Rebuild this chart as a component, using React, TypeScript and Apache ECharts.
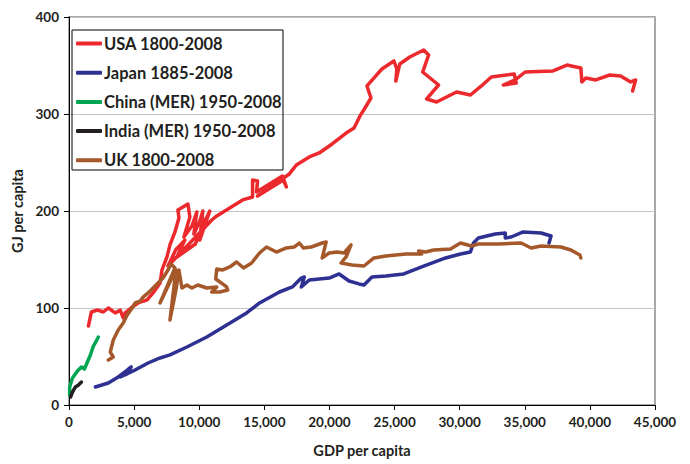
import React, { useEffect, useRef } from "react";
import * as echarts from "echarts";

// GDP per capita vs GJ per capita, traced paths [gdp, gj]
const usaPath: number[][] = [
  [1490, 81.4], [1719, 95.9], [2177, 97.9], [2636, 95.9], [3018, 100.0], [3553, 94.9],
  [3935, 97.9], [4164, 89.7], [4317, 94.9], [4851, 101.0], [5310, 105.2], [5997, 108.3],
  [6456, 115.5], [6991, 125.8], [7143, 139.2], [7525, 152.6], [7755, 165.0], [8137, 178.4],
  [8442, 192.8], [8366, 201.0], [9130, 207.2], [9283, 193.8], [8824, 173.2], [9435, 184.5],
  [9817, 199.0], [9588, 176.3], [10047, 189.7], [10276, 200.0], [10123, 180.4], [10811, 200.0],
  [10047, 170.1], [10500, 192.0], [9700, 166.0], [9053, 159.8], [8289, 152.6], [8900, 170.0],
  [8200, 160.0], [7602, 143.3], [10963, 190.7], [11345, 194.9],
  [13332, 211.4], [14096, 214.4], [14096, 232.0], [14478, 230.9], [14401, 219.6], [16388, 236.1],
  [16693, 224.8], [16464, 232.0], [14478, 215.5], [16923, 238.2], [17457, 247.4], [18451, 255.7],
  [19215, 259.8], [20208, 269.1], [21277, 280.4], [21889, 285.6], [22347, 298.0], [22729, 306.2],
  [23187, 316.5], [22882, 328.9], [23493, 338.2], [24028, 346.4], [24945, 354.7], [25174, 346.4],
  [25097, 334.0], [25403, 351.6], [26167, 358.8], [27237, 366.0], [27619, 360.9], [27160, 343.3],
  [28383, 329.9], [27466, 315.5], [28230, 312.4], [29758, 322.7], [30827, 319.6], [31668, 328.9],
  [32432, 338.2], [34189, 341.3], [34342, 332.0], [33349, 329.9], [34265, 335.1], [35029, 343.3],
  [37169, 344.4], [38238, 350.5], [39308, 347.4], [39384, 333.0], [39690, 337.1], [40454, 335.1],
  [41523, 340.2], [42364, 339.2], [43128, 333.0], [43510, 335.1], [43281, 323.7],
];

const japanPath: number[][] = [
  [2025, 18.6], [3018, 22.7], [3782, 28.9], [4393, 35.1], [4775, 39.2], [4469, 32.0],
  [3935, 28.9], [4928, 35.1], [6074, 43.3], [6991, 48.5], [7755, 51.6], [9053, 59.8],
  [10581, 70.1], [12109, 82.5], [13637, 94.9], [14631, 105.2], [16159, 116.5], [17152, 121.7],
  [17839, 130.9], [18069, 132.0], [17839, 121.7], [18451, 128.9], [19215, 129.9], [19979, 130.9],
  [20743, 135.1], [21507, 127.8], [22271, 124.8], [22653, 123.7], [23264, 132.0], [24333, 133.0],
  [25709, 135.1], [27084, 142.3], [28917, 151.6], [30063, 155.7], [30827, 157.7], [31057, 167.0],
  [31439, 172.2], [32737, 176.3], [33501, 177.3], [33501, 172.2], [33960, 173.2], [34877, 178.4],
  [36252, 177.3], [37016, 174.2], [36863, 167.0],
];

const chinaPath: number[][] = [
  [50, 10.3], [50, 18.6], [267, 27.8], [649, 35.1], [955, 39.2], [1184, 37.1],
  [1413, 44.3], [1643, 51.6], [1872, 60.8], [2101, 66.0], [2254, 70.1],
];

const indiaPath: number[][] = [
  [115, 8.2], [267, 13.4], [497, 18.6], [726, 20.6], [955, 23.7],
];

const ukPath: number[][] = [
  [3018, 46.4], [3400, 49.5], [3171, 54.6], [3400, 67.0], [3782, 77.3], [4164, 84.5],
  [4469, 92.8], [4851, 100.0], [5081, 105.2], [5463, 107.2], [5692, 111.3], [6074, 115.5],
  [6456, 120.6], [6838, 125.8], [7220, 130.9], [7602, 139.2], [7831, 145.4], [8137, 141.2],
  [6991, 105.2], [7755, 126.8], [8213, 139.2], [7755, 87.6], [8213, 118.6], [8442, 139.2],
  [8671, 120.6], [9053, 123.7], [9435, 120.6], [9894, 123.7], [10581, 120.6], [11345, 121.7],
  [10963, 116.5], [11575, 116.5], [12186, 118.6], [12109, 121.7], [11269, 129.9], [11345, 140.2],
  [11804, 139.2], [12339, 142.3], [12873, 147.4], [13408, 141.2], [14019, 146.4], [14631, 156.7],
  [15165, 162.9], [15929, 157.7], [16693, 161.9], [17305, 162.9], [17687, 167.0], [17992, 161.9],
  [18603, 162.9], [19444, 167.0], [19749, 168.1], [19444, 151.6], [19979, 156.7], [20590, 157.7],
  [21125, 156.7], [21659, 165.0], [21277, 152.6], [20895, 146.4], [21736, 144.3], [22653, 143.3],
  [23417, 151.6], [24333, 153.6], [25861, 155.7], [27084, 155.7], [26855, 158.8], [27389, 157.7],
  [28001, 159.8], [29299, 160.8], [30063, 167.0], [30904, 163.9], [31439, 166.0], [32967, 166.0],
  [34724, 167.0], [35488, 161.9], [36252, 163.9], [37780, 162.9], [38544, 159.8], [39231, 154.7],
  [39308, 151.6],
];

const seriesNames = [
  "USA 1800-2008",
  "Japan 1885-2008",
  "China (MER) 1950-2008",
  "India (MER) 1950-2008",
  "UK 1800-2008",
];
const seriesColors = ["#ec2a2e", "#2e3192", "#00a651", "#231f20", "#a5582a"];
const seriesData = [usaPath, japanPath, chinaPath, indiaPath, ukPath];

const FONT = "Lato, 'Liberation Sans', sans-serif";

export default function App() {
  const ref = useRef<HTMLDivElement>(null);
  useEffect(() => {
    if (!ref.current) return;
    const chart = echarts.init(ref.current, undefined, { renderer: "svg" });
    chart.setOption({
      animation: false,
      backgroundColor: "#fff",
      grid: {
        left: 69,
        right: 35,
        top: 17,
        bottom: 59,
        show: true,
        borderColor: "#8a8a8a",
        borderWidth: 1.5,
      },
      graphic: [
        {
          type: "rect",
          shape: { x: 72, y: 30, width: 211, height: 140 },
          style: { fill: "none", stroke: "#000", lineWidth: 1 },
          z: 5,
        },
      ],
      legend: {
        orient: "vertical",
        left: 76,
        top: 35,
        padding: 0,
        itemGap: 12.2,
        itemWidth: 26,
        itemHeight: 4,
        icon: "roundRect",
        data: seriesNames,
        textStyle: {
          fontFamily: FONT,
          fontWeight: "bold",
          fontSize: 16.5,
          lineHeight: 16,
          color: "#231f20",
          padding: [0, 0, 0, -3],
        },
      },
      xAxis: {
        type: "value",
        min: 0,
        max: 45000,
        interval: 5000,
        name: "GDP per capita",
        nameLocation: "middle",
        nameGap: 38,
        nameTextStyle: { fontFamily: FONT, fontWeight: "bold", fontSize: 14.5, color: "#231f20" },
        axisLine: { show: true, lineStyle: { color: "#000", width: 1 } },
        axisTick: { show: true, length: 5, lineStyle: { color: "#000" } },
        axisLabel: {
          margin: 10,
          fontFamily: FONT,
          fontWeight: "bold",
          fontSize: 13.5,
          color: "#231f20",
          formatter: (v: number) => v.toLocaleString("en-US"),
        },
        splitLine: { show: false },
      },
      yAxis: {
        type: "value",
        min: 0,
        max: 400,
        interval: 100,
        name: "GJ per capita",
        nameLocation: "middle",
        nameGap: 41,
        nameTextStyle: { fontFamily: FONT, fontWeight: "bold", fontSize: 14.5, color: "#231f20" },
        axisLine: { show: true, lineStyle: { color: "#000", width: 1 } },
        axisTick: { show: true, length: 5, lineStyle: { color: "#000" } },
        axisLabel: {
          margin: 10,
          fontFamily: FONT,
          fontWeight: "bold",
          fontSize: 13.5,
          color: "#231f20",
        },
        splitLine: { show: true, lineStyle: { color: "#c4c4c4", width: 1 } },
      },
      series: seriesData.map((d, i) => ({
        name: seriesNames[i],
        type: "line",
        data: d,
        showSymbol: false,
        symbol: "none",
        color: seriesColors[i],
        lineStyle: { width: 3.5, color: seriesColors[i], cap: "round", join: "round" },
        emphasis: { disabled: true },
      })),
    });
    return () => chart.dispose();
  }, []);
  return (
    <div
      ref={ref}
      style={{ position: "fixed", left: 0, top: 0, width: 690, height: 464 }}
    />
  );
}
